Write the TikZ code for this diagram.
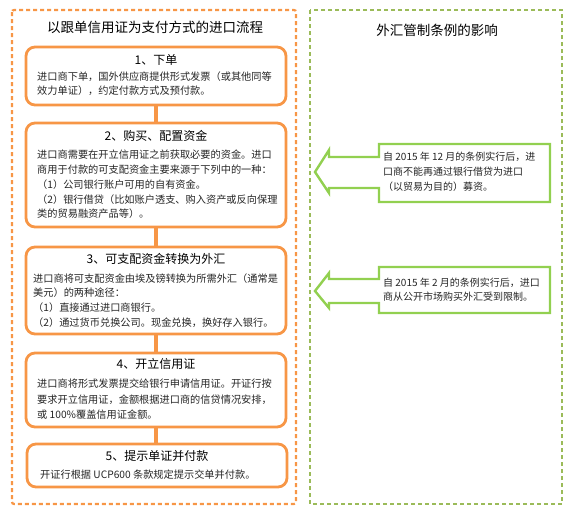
\documentclass[tikz,border=0pt]{standalone}
\usepackage{fontspec}
\setmainfont{Noto Sans CJK SC}
\newfontfamily\cjk{Noto Sans CJK SC}
\definecolor{orgC}{HTML}{F79646}
\definecolor{grnD}{HTML}{9BBB59}
\definecolor{grnA}{HTML}{92D050}
\tikzset{
  stepbox/.style={draw=orgC, line width=2.8pt, rounded corners=9pt, minimum width=260pt, inner sep=0pt, fill=white},
  boxtitle/.style={font=\cjk\fontsize{12}{14}\selectfont, inner sep=0pt},
  bigtitle/.style={font=\cjk\fontsize{13.5}{16}\selectfont, inner sep=0pt},
  bodyline/.style={font=\cjk\fontsize{10.2}{12}\selectfont, anchor=west, inner sep=0pt, text=black!85},
  sideline/.style={font=\cjk\fontsize{10}{12}\selectfont, anchor=west, inner sep=0pt, text=black!85},
  outerdash/.style={line width=2.2pt, dash pattern=on 4pt off 3pt},
  callout/.style={draw=grnA, line width=2.4pt, fill=white, line join=miter},
  link/.style={draw=orgC, line width=4pt}
}
\begin{document}
\begin{tikzpicture}[x=1pt,y=-1pt]
\useasboundingbox (0,0) rectangle (576,515);
% outer frames
\draw[outerdash, draw=orgC, rounded corners=2pt] (12,10) rectangle (296,504);
\draw[outerdash, draw=grnD] (310,10) rectangle (562,504);
\node[bigtitle] (lt) at (155,27) {以跟单信用证为支付方式的进口流程};
\node[bigtitle] (rt) at (437,30) {外汇管制条例的影响};
% boxes
\node[stepbox, minimum height=58pt] (b1) at (156,76) {};
\node[stepbox, minimum height=104pt] (b2) at (156,175) {};
\node[stepbox, minimum height=87pt] (b3) at (156,290.5) {};
\node[stepbox, minimum height=74pt] (b4) at (156,390) {};
\node[stepbox, minimum height=43pt] (b5) at (157,465.5) {};
% connectors
\draw[link] (b1.south) -- (b1.south |- b2.north);
\draw[link] (b2.south) -- (b2.south |- b3.north);
\draw[link] (b3.south) -- (b3.south |- b4.north);
\draw[link] (b4.south) -- (b4.south |- b5.north);
% box 1
\node[boxtitle] (t1) at (156,60) {1、下单};
\node[bodyline] (l11) at (37,77) {进口商下单，国外供应商提供形式发票（或其他同等};
\node[bodyline] (l12) at (37,91) {效力单证），约定付款方式及预付款。};
% box 2
\node[boxtitle] (t2) at (156,136) {2、购买、配置资金};
\node[bodyline] (l21) at (37,155) {进口商需要在开立信用证之前获取必要的资金。进口};
\node[bodyline] (l22) at (37,170) {商用于付款的可支配资金主要来源于下列中的一种：};
\node[bodyline] (l23) at (37,185) {（1）公司银行账户可用的自有资金。};
\node[bodyline] (l24) at (37,200) {（2）银行借贷（比如账户透支、购入资产或反向保理};
\node[bodyline] (l25) at (37,214) {类的贸易融资产品等）。};
% box 3
\node[boxtitle] (t3) at (156,259) {3、可支配资金转换为外汇};
\node[bodyline] (l31) at (33,279) {进口商将可支配资金由埃及镑转换为所需外汇（通常是};
\node[bodyline] (l32) at (33,293) {美元）的两种途径：};
\node[bodyline] (l33) at (33,308) {（1）直接通过进口商银行。};
\node[bodyline] (l34) at (33,323) {（2）通过货币兑换公司。现金兑换，换好存入银行。};
% box 4
\node[boxtitle] (t4) at (156,364) {4、开立信用证};
\node[bodyline] (l41) at (37,384) {进口商将形式发票提交给银行申请信用证。开证行按};
\node[bodyline] (l42) at (37,400) {要求开立信用证，金额根据进口商的信贷情况安排，};
\node[bodyline] (l43) at (37,415) {或 100\%覆盖信用证金额。};
% box 5
\node[boxtitle] (t5) at (157,456) {5、提示单证并付款};
\node[bodyline] (l51) at (40,475) {开证行根据 UCP600 条款规定提示交单并付款。};
% callouts
\draw[callout] (379,144) -- (550,144) -- (550,202) -- (379,202) -- (379,188) -- (329,188) -- (329,193) -- (315,172) -- (329,150) -- (329,157) -- (379,157) -- cycle;
\node[sideline] (r11) at (383,157) {自 2015 年 12 月的条例实行后，进};
\node[sideline] (r12) at (383,172) {口商不能再通过银行借贷为进口};
\node[sideline] (r13) at (383,187) {（以贸易为目的）募资。};
\draw[callout] (379,267) -- (550,267) -- (550,313) -- (379,313) -- (379,303) -- (329,303) -- (329,308) -- (315,291) -- (329,273) -- (329,279) -- (379,279) -- cycle;
\node[sideline] (r21) at (383,283) {自 2015 年 2 月的条例实行后，进口};
\node[sideline] (r22) at (383,297) {商从公开市场购买外汇受到限制。};
\end{tikzpicture}
\end{document}
